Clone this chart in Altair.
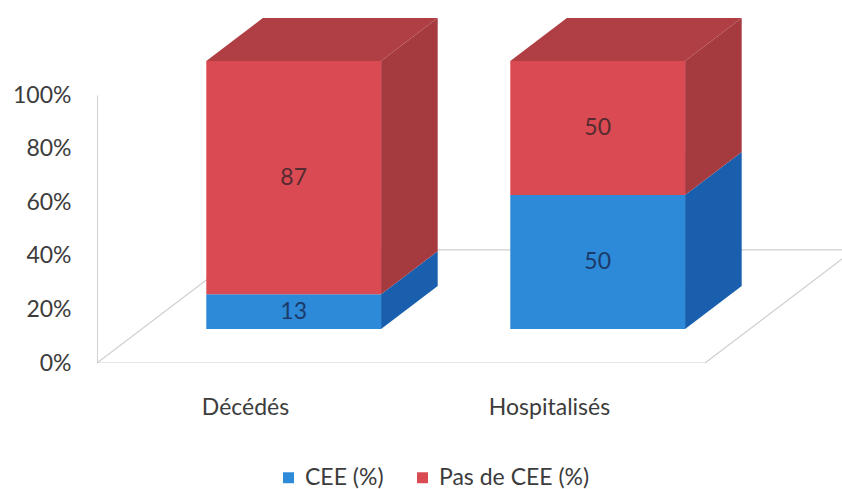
import json
import altair as alt
import pandas as pd

# Stacked shares per outcome group
categories = ["Décédés", "Hospitalisés"]
series = ["CEE (%)", "Pas de CEE (%)"]
cee = [13, 50]
pas_cee = [87, 50]
y_ticks = [0, 20, 40, 60, 80, 100]

# Face shades for each series: front, right side, top
front_colors = ["#2C8AD8", "#DA4A53"]
side_colors = ["#1A5EAE", "#A53A3F"]
top_colors = ["#1E66B6", "#AF3F44"]
text_colors = ["#1B3A6A", "#552B2F"]

FONT = "Lato"
FONT_SIZE = 23
AXIS_GREY = "#cfcfcf"
TEXT_GREY = "#3c3c3c"

# Oblique projection: depth vector of the floor in (category units, percent units)
FLOOR_DX = 0.49
FLOOR_DY = 42.2
D_FRONT = 0.30   # bar front face depth (fraction of floor depth)
D_BACK = 0.68    # bar back face depth
BAR_W = 0.575    # width of the bar front face, in category units


def shift(depth):
    return FLOOR_DX * depth, FLOOR_DY * depth


fx, fy = shift(D_FRONT)
bx, by = shift(D_BACK)

front_rows, side_rows, top_rows = [], [], []
values = [cee, pas_cee]
for i, cat in enumerate(categories):
    base = 0
    for s, name in enumerate(series):
        v = values[s][i]
        y0, y1 = base, base + v
        base = y1
        left = i - BAR_W / 2
        right = i + BAR_W / 2
        front_rows.append({
            "cat": cat, "series": name, "value": v,
            "x1": left + fx, "x2": right + fx,
            "y1": y0 + fy, "y2": y1 + fy,
            "ym": (y0 + y1) / 2 + fy, "xm": i + fx,
            "tcol": text_colors[s],
        })
        face = f"{cat}-{name}"
        for dx, dy in ((fx, fy), (bx, by)):
            side_rows.append({
                "face": face, "x": right + dx,
                "ya": y0 + dy, "yb": y1 + dy, "shade": side_colors[s],
            })
        if s == len(series) - 1:
            for dx, dy in ((fx, fy), (bx, by)):
                top_rows.append({
                    "face": face, "y": y1 + dy,
                    "xa": left + dx, "xb": right + dx, "shade": top_colors[s],
                })

front_df = pd.DataFrame(front_rows)
side_df = pd.DataFrame(side_rows)
top_df = pd.DataFrame(top_rows)

# Floor outline (front edge spans the two category slots)
fl, fr = -0.5, 1.5
floor_df = pd.DataFrame([
    {"k": 0, "x": fl, "y": 0},
    {"k": 1, "x": fr, "y": 0},
    {"k": 2, "x": fr + FLOOR_DX, "y": FLOOR_DY},
    {"k": 3, "x": fl + FLOOR_DX, "y": FLOOR_DY},
    {"k": 4, "x": fl, "y": 0},
])

PLOT_W, PLOT_H = 745, 268
x_scale = alt.Scale(domain=[-0.5, -0.5 + PLOT_W / 304.0], nice=False, zero=False)
y_scale = alt.Scale(domain=[0, 100], nice=False)

label_expr = f"{json.dumps(categories, ensure_ascii=False)}[round(datum.value)]"
x_axis = alt.Axis(values=[0, 1], labelExpr=label_expr, grid=False, ticks=False,
                  domain=False, labelFont=FONT, labelFontSize=FONT_SIZE,
                  labelColor=TEXT_GREY, labelPadding=33, labelOffset=-4,
                  labelFlush=False)
y_axis = alt.Axis(values=y_ticks, labelExpr="datum.value + '%'", grid=False,
                  ticks=False, domain=True, domainColor=AXIS_GREY,
                  labelFont=FONT, labelFontSize=FONT_SIZE, labelColor=TEXT_GREY,
                  labelPadding=26)


def X(field):
    return alt.X(field, type="quantitative", scale=x_scale, axis=x_axis, title=None)


def Y(field):
    return alt.Y(field, type="quantitative", scale=y_scale, axis=y_axis, title=None)


floor = alt.Chart(floor_df).mark_line(color=AXIS_GREY, strokeWidth=1.2, clip=True).encode(
    x=X("x"), y=Y("y"), order="k:O"
)

fronts = alt.Chart(front_df).mark_rect().encode(
    x=X("x1"), x2="x2", y=Y("y1"), y2="y2",
    color=alt.Color(
        "series:N",
        scale=alt.Scale(domain=series, range=front_colors),
        legend=alt.Legend(
            orient="none", legendX=180, legendY=371, direction="horizontal",
            title=None, symbolType="square", symbolSize=120, symbolStrokeWidth=0,
            labelFont=FONT, labelFontSize=FONT_SIZE, labelColor=TEXT_GREY,
            labelOffset=5, columnPadding=27,
        ),
    ),
)

sides = alt.Chart(side_df).mark_area(orient="vertical").encode(
    x=X("x"), y=Y("ya"), y2="yb", fill=alt.Fill("shade:N", scale=None),
    detail="face:N",
)

tops = alt.Chart(top_df).mark_area(orient="horizontal").encode(
    y=Y("y"), x=X("xa"), x2="xb", fill=alt.Fill("shade:N", scale=None),
    detail="face:N",
)

labels = alt.Chart(front_df).mark_text(font=FONT, fontSize=FONT_SIZE).encode(
    x=X("xm"), y=Y("ym"), text="value:Q",
    fill=alt.Fill("tcol:N", scale=None),
)

chart = alt.layer(floor, sides, tops, fronts, labels).properties(
    width=PLOT_W, height=PLOT_H,
    autosize=alt.AutoSizeParams(type="none"),
    padding={"left": 97, "top": 95, "right": 0, "bottom": 126},
    background="white",
).configure_view(stroke=None)

chart.save("out.html", embed_options={"renderer": "svg", "actions": False})
